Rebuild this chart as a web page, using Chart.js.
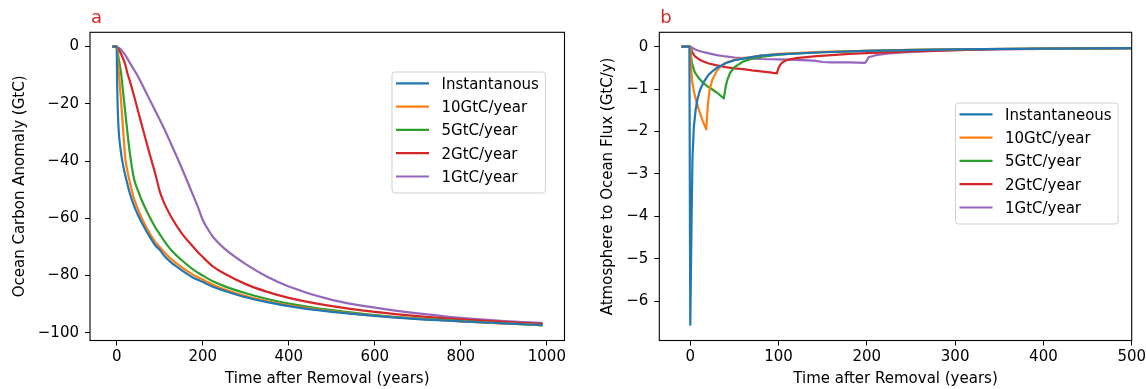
<!DOCTYPE html>
<html>
<head>
<meta charset="utf-8">
<script src="https://cdn.jsdelivr.net/npm/chart.js@4.4.1/dist/chart.umd.min.js"></script>
<style>
  html, body { margin: 0; padding: 0; background: #fff; overflow: hidden; }
  #wrap { position: relative; width: 1146px; height: 389px; overflow: hidden; }
  canvas { position: absolute; top: 0; }
  #chartA { left: 0; }
  #chartB { left: 580px; }
</style>
</head>
<body>
<div id="wrap">
  <canvas id="chartA" width="600" height="389"></canvas>
  <canvas id="chartB" width="586" height="389"></canvas>
</div>
<script>
// panel a: ocean carbon anomaly (GtC)
const yearsA = [-10, 0, 1, 2, 3, 5, 10, 15, 20, 25, 30, 40, 50, 60, 75, 90, 100, 110, 125, 150,
  175, 190, 200, 210, 225, 250, 300, 350, 400, 500, 600, 700, 800, 900, 990];
const carbonInst = [0, 0, -12, -19, -24, -30, -37, -41.5, -45, -48, -51, -55.5, -59, -62, -66, -69.5, -71, -73, -75.2, -78,
  -80.5, -81.6, -82.2, -83, -84, -85.3, -87.6, -89.3, -90.7, -92.7, -94.1, -95.2, -96, -96.7, -97.3];
const carbon10 = [0, 0, -1.5, -3.5, -5.5, -9, -18.5, -29, -39, -43.5, -47, -53, -57, -60.5, -64.8, -68.3, -70, -71.8, -74, -77,
  -79.5, -80.7, -81.4, -82.2, -83.3, -84.8, -87.2, -89, -90.4, -92.5, -94, -95.1, -96, -96.7, -97.3];
const carbon5 = [0, 0, -0.5, -1.5, -2.5, -4.5, -9, -16, -23, -30, -36.5, -46, -50.5, -54.3, -59, -63.2, -65.5, -67.8, -70.8, -74.5,
  -77.6, -79.1, -80, -80.9, -82.1, -83.7, -86.2, -88.2, -89.8, -92.1, -93.8, -95, -95.9, -96.7, -97.4];
const carbon2 = [0, 0, -0.1, -0.3, -0.5, -1, -2.5, -4.2, -6.3, -9.3, -11.7, -17, -22.7, -28.3, -36.6, -44.6, -50.5, -54.5, -59, -65,
  -69.5, -72, -73.5, -75, -77, -79.3, -83, -85.7, -87.8, -90.7, -92.7, -94.2, -95.3, -96.2, -96.9];
const carbon1 = [0, 0, -0.1, -0.2, -0.3, -0.5, -1, -2, -3, -4.2, -5.5, -8, -10.5, -13.5, -18, -22.5, -25.5, -28.5, -33.5, -42,
  -51, -56.5, -60.5, -63.3, -66.7, -70.5, -76, -80.4, -83.8, -88.5, -91.2, -93.2, -94.8, -95.9, -96.6];

// panel b: atmosphere to ocean flux (GtC/y)
const yearsInstB = [-10, -1, 0, 1.5, 2.5, 4, 6, 8, 11, 15, 20, 25, 30, 40, 50, 60, 80, 100, 150, 200, 250, 300, 400, 500];
const fluxInst = [0, 0, -6.56, -4.0, -2.6, -1.9, -1.5, -1.25, -1.02, -0.84, -0.68, -0.58, -0.5, -0.39, -0.32, -0.28,
  -0.21, -0.18, -0.13, -0.1, -0.08, -0.065, -0.045, -0.035];
const years10B = [-10, 0, 1, 2, 4, 7, 10, 14, 18, 20, 22, 25, 30, 35, 40, 50, 60, 80, 100, 150, 200, 250, 300, 400, 500];
const flux10 = [0, 0, -0.5, -0.8, -1.05, -1.3, -1.5, -1.75, -1.95, -1.35, -1.0, -0.78, -0.57, -0.45, -0.38, -0.31, -0.27,
  -0.21, -0.17, -0.12, -0.095, -0.075, -0.06, -0.045, -0.035];
const years5B = [-10, 0, 1, 2, 5, 10, 15, 20, 25, 30, 38, 40, 42, 45, 50, 60, 70, 80, 100, 120, 150, 200, 250, 300, 400, 500];
const flux5 = [0, 0, -0.25, -0.4, -0.6, -0.75, -0.86, -0.94, -1.01, -1.08, -1.22, -0.95, -0.78, -0.62, -0.48, -0.35, -0.28,
  -0.24, -0.19, -0.16, -0.13, -0.095, -0.075, -0.06, -0.045, -0.035];
const years2B = [-10, 0, 2, 5, 10, 15, 20, 30, 40, 50, 60, 70, 80, 90, 98, 100, 102, 105, 110, 120, 140, 160, 180, 200,
  250, 300, 350, 400, 500];
const flux2 = [0, 0, -0.12, -0.22, -0.3, -0.35, -0.39, -0.44, -0.48, -0.51, -0.53, -0.56, -0.58, -0.605, -0.63, -0.5, -0.42,
  -0.36, -0.31, -0.27, -0.23, -0.2, -0.17, -0.15, -0.11, -0.08, -0.06, -0.05, -0.035];
const years1B = [-10, 0, 5, 10, 20, 30, 40, 50, 60, 80, 100, 120, 140, 150, 160, 180, 198, 200, 202, 210, 225, 250, 300,
  350, 400, 450, 500];
const flux1 = [0, 0, -0.06, -0.1, -0.15, -0.2, -0.23, -0.255, -0.27, -0.29, -0.3, -0.31, -0.33, -0.36, -0.37, -0.37, -0.38,
  -0.32, -0.25, -0.2, -0.16, -0.12, -0.08, -0.06, -0.05, -0.04, -0.035];

const labelsA = ['Instantanous', '10GtC/year', '5GtC/year', '2GtC/year', '1GtC/year'];
const labelsB = ['Instantaneous', '10GtC/year', '5GtC/year', '2GtC/year', '1GtC/year'];

const xTicksA = [0, 200, 400, 600, 800, 1000];
const yTicksA = [0, -20, -40, -60, -80, -100];
const xTicksB = [0, 100, 200, 300, 400, 500];
const yTicksB = [0, -1, -2, -3, -4, -5, -6];

const tab10 = ['#1f77b4', '#ff7f0e', '#2ca02c', '#d62728', '#9467bd'];
const FONT = '"DejaVu Sans", sans-serif';

Chart.defaults.font.family = FONT;
Chart.defaults.font.size = 15;
Chart.defaults.color = '#000';

function toPoints(xs, ys) {
  return xs.map((x, i) => ({ x: x, y: ys[i] }));
}

function minusLabel(v) {
  return v < 0 ? '\u2212' + Math.abs(v) : String(v);
}

// box around the axes, drawn over the lines like matplotlib spines
const framePlugin = {
  id: 'frame',
  afterDatasetsDraw(chart) {
    const { ctx, chartArea: a } = chart;
    ctx.save();
    ctx.strokeStyle = '#000';
    ctx.lineWidth = 1.1;
    ctx.strokeRect(a.left, a.top, a.right - a.left, a.bottom - a.top);
    ctx.restore();
  }
};

// red "a" / "b" tag above the axes
const panelLabel = {
  id: 'panelLabel',
  afterDraw(chart, args, opts) {
    const ctx = chart.ctx;
    ctx.save();
    ctx.font = '18px ' + FONT;
    ctx.fillStyle = '#d62728';
    ctx.textBaseline = 'alphabetic';
    ctx.fillText(opts.text, chart.chartArea.left + 1, 22.7);
    ctx.restore();
  }
};

// matplotlib-looking legend inside the plot
const boxLegend = {
  id: 'boxLegend',
  afterDraw(chart, args, opts) {
    const ctx = chart.ctx;
    const sets = chart.data.datasets;
    ctx.save();
    ctx.font = '15px ' + FONT;
    const textW = Math.max(...sets.map(d => ctx.measureText(d.label).width));
    const w = 4.5 + 33 + 12.5 + textW + 6;
    const h = 121;
    ctx.beginPath();
    ctx.roundRect(opts.left + 0.5, opts.top + 0.5, w, h, 3);
    ctx.fillStyle = 'rgba(255,255,255,0.8)';
    ctx.fill();
    ctx.strokeStyle = '#d0d0d0';
    ctx.lineWidth = 1;
    ctx.stroke();
    sets.forEach((d, i) => {
      const y = opts.top + 11.8 + i * 23.3;
      ctx.beginPath();
      ctx.moveTo(opts.left + 4.5, y);
      ctx.lineTo(opts.left + 37.5, y);
      ctx.strokeStyle = d.borderColor;
      ctx.lineWidth = 2.2;
      ctx.stroke();
      ctx.fillStyle = '#000';
      ctx.textBaseline = 'middle';
      ctx.fillText(d.label, opts.left + 50, y + 1.5);
    });
    ctx.restore();
  }
};

function buildChart(id, cfg) {
  return new Chart(document.getElementById(id), {
    type: 'line',
    data: {
      datasets: cfg.series.map((s, i) => ({
        label: s.label,
        data: s.points,
        borderColor: tab10[i],
        backgroundColor: tab10[i],
        borderWidth: 2.2,
        borderJoinStyle: 'round',
        pointRadius: 0,
        fill: false,
        tension: 0,
        cubicInterpolationMode: cfg.smooth ? 'monotone' : 'default'
      }))
    },
    options: {
      responsive: false,
      animation: false,
      events: [],
      layout: { padding: { left: 0, top: 32.3, right: cfg.padRight, bottom: 0 } },
      plugins: {
        legend: { display: false },
        tooltip: { enabled: false },
        panelLabel: { text: cfg.tag },
        boxLegend: { left: cfg.legendLeft, top: cfg.legendTop }
      },
      scales: {
        x: {
          type: 'linear',
          min: cfg.xMin,
          max: cfg.xMax,
          afterFit: s => { s.height = 48.5; },
          afterBuildTicks: s => { s.ticks = cfg.xTicks.map(v => ({ value: v })); },
          grid: { drawOnChartArea: false, drawTicks: true, tickLength: 5, tickColor: '#000', tickWidth: 1 },
          border: { display: false },
          ticks: { color: '#000', padding: 3, maxRotation: 0, autoSkip: false, callback: minusLabel },
          title: { display: true, text: 'Time after Removal (years)', color: '#000', padding: { top: 0, bottom: 1 } }
        },
        y: {
          type: 'linear',
          min: cfg.yMin,
          max: cfg.yMax,
          afterFit: s => { s.width = cfg.yAxisWidth; },
          afterBuildTicks: s => { s.ticks = cfg.yTicks.map(v => ({ value: v })); },
          grid: { drawOnChartArea: false, drawTicks: true, tickLength: 5, tickColor: '#000', tickWidth: 1 },
          border: { display: false },
          ticks: { color: '#000', padding: 6, autoSkip: false, callback: minusLabel },
          title: { display: true, text: cfg.yTitle, color: '#000', padding: { top: cfg.yTitlePad, bottom: 0 } }
        }
      }
    },
    plugins: [framePlugin, panelLabel, boxLegend]
  });
}

buildChart('chartA', {
  tag: 'a',
  smooth: true,
  series: [
    { label: labelsA[0], points: toPoints(yearsA, carbonInst) },
    { label: labelsA[1], points: toPoints(yearsA, carbon10) },
    { label: labelsA[2], points: toPoints(yearsA, carbon5) },
    { label: labelsA[3], points: toPoints(yearsA, carbon2) },
    { label: labelsA[4], points: toPoints(yearsA, carbon1) }
  ],
  xMin: -62, xMax: 1041, yMin: -102.7, yMax: 5.0,
  xTicks: xTicksA, yTicks: yTicksA,
  yTitle: 'Ocean Carbon Anomaly (GtC)',
  yAxisWidth: 90, yTitlePad: 11.5, padRight: 35.5,
  legendLeft: 391.5, legendTop: 71.5
});

buildChart('chartB', {
  tag: 'b',
  smooth: false,
  series: [
    { label: labelsB[0], points: toPoints(yearsInstB, fluxInst) },
    { label: labelsB[1], points: toPoints(years10B, flux10) },
    { label: labelsB[2], points: toPoints(years5B, flux5) },
    { label: labelsB[3], points: toPoints(years2B, flux2) },
    { label: labelsB[4], points: toPoints(years1B, flux1) }
  ],
  xMin: -35.1, xMax: 500, yMin: -6.93, yMax: 0.34,
  xTicks: xTicksB, yTicks: yTicksB,
  yTitle: 'Atmosphere to Ocean Flux (GtC/y)',
  yAxisWidth: 79.3, yTitlePad: 19.3, padRight: 34.3,
  legendLeft: 375, legendTop: 102.5
});
</script>
</body>
</html>
